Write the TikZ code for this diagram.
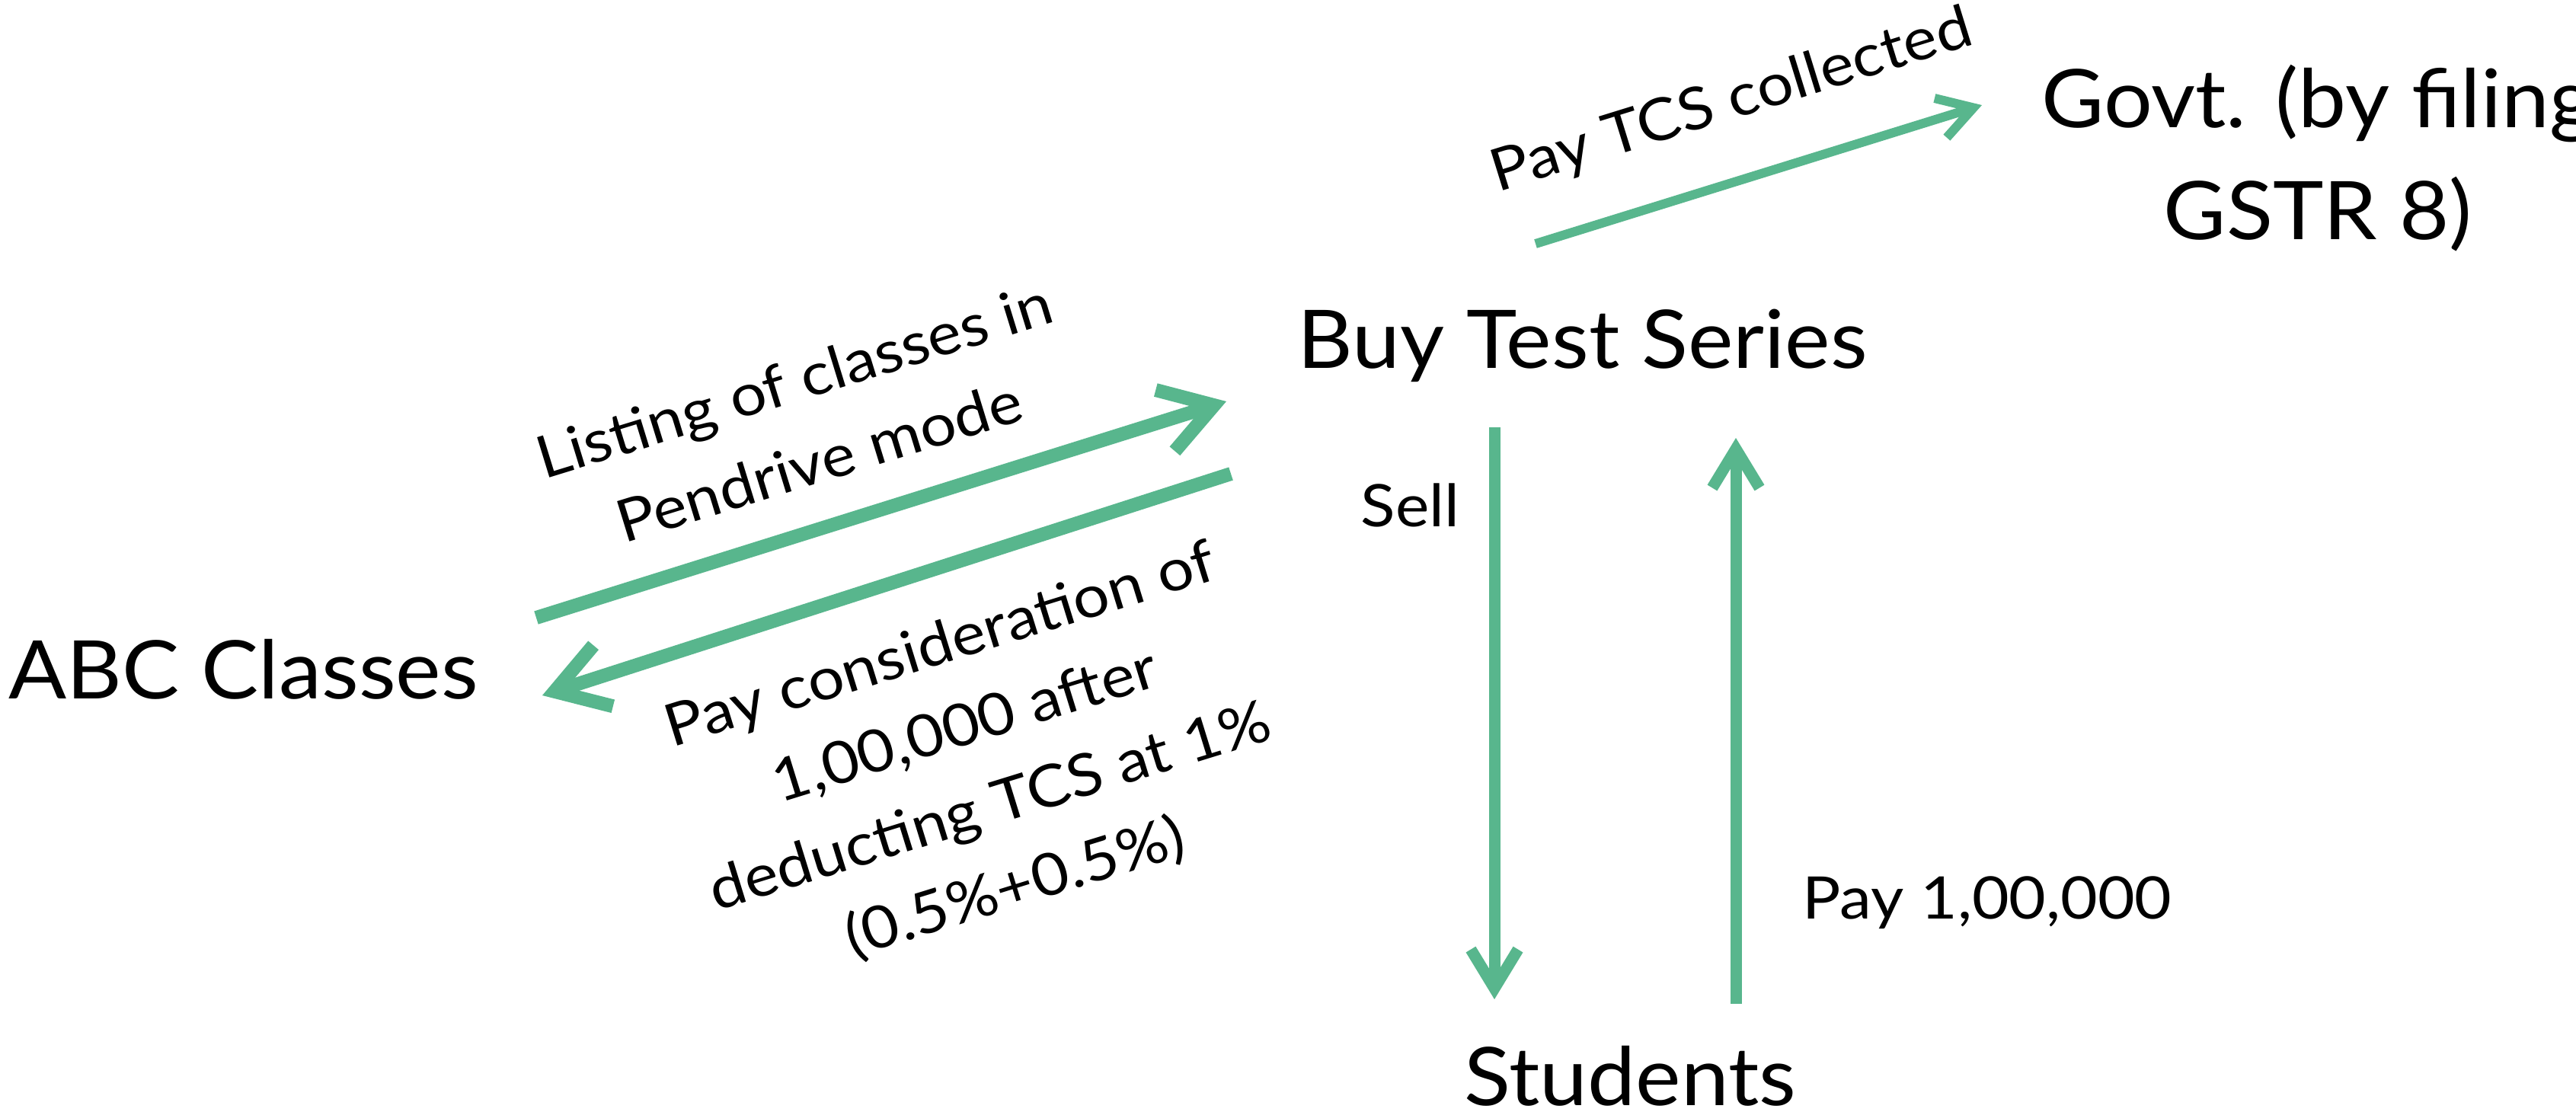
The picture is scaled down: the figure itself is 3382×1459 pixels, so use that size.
\documentclass[tikz,border=0pt]{standalone}
\usepackage{fontspec}
\setmainfont{Lato}
\newfontfamily\partyfont{Lato}[FakeStretch=1.06]
\newfontfamily\capfont{Lato}[FakeStretch=1.09]
\usetikzlibrary{arrows.meta}
\definecolor{flow}{RGB}{88,182,141}
\begin{document}
\begin{tikzpicture}[x=0.01cm,y=-0.01cm,
  party/.style={font=\partyfont\fontsize{30.2pt}{41.8pt}\selectfont, inner sep=0pt},
  caption/.style={font=\capfont\fontsize{21.9pt}{31.6pt}\selectfont, inner sep=0pt},
  widearrow/.style={draw=flow, line width=0.18cm,
    -{Straight Barb[length=0.67cm,width=0.84cm]}},
  narrowarrow/.style={draw=flow, line width=0.15cm,
    -{Straight Barb[length=0.51cm,width=0.62cm]}},
  taxarrow/.style={draw=flow, line width=0.12cm,
    -{Straight Barb[length=0.45cm,width=0.54cm]}}
]
\useasboundingbox (0,0) rectangle (3382,1459);

% parties
\node[party, anchor=base west] (abc) at (11,917) {ABC Classes};
\node[party, anchor=base west] (buy) at (1703,483) {Buy Test Series};
\node[party, anchor=base west] (stu) at (1922,1451) {Students};
\node[party, align=center] (gov) at (3043,208) {Govt. (by filing\\GSTR 8)};

% connector end points
\coordinate (abc-out) at (704,811);
\coordinate (buy-in)  at (1610,527);
\coordinate (buy-out) at (1616,622);
\coordinate (abc-in)  at (712,913);
\coordinate (buy-tax) at (2016,320);
\coordinate (gov-in)  at (2602,138);
\coordinate (buy-sell) at (1962,561);
\coordinate (stu-in)  at (1962,1312);
\coordinate (stu-pay) at (2279,1318);
\coordinate (buy-paid) at (2279,575);

% flows
\draw[widearrow] (abc-out) -- (buy-in);
\draw[widearrow] (buy-out) -- (abc-in);
\draw[taxarrow] (buy-tax) -- (gov-in);
\draw[narrowarrow] (buy-sell) -- (stu-in);
\draw[narrowarrow] (stu-pay) -- (buy-paid);

% flow captions
\node[caption, rotate=17.1, align=center] (listing) at (1059,552)
  {Listing of classes in\\Pendrive mode};
\node[caption, rotate=17.2, align=center] (consider) at (1284,1008)
  {Pay consideration of\\1,00,000 after\\deducting TCS at 1\%\\(0.5\%+0.5\%)};
\node[caption, rotate=17.2, anchor=base] (taxcap) at (2280,155) {Pay TCS collected};
\node[caption, anchor=base west] (sell) at (1786,691) {Sell};
\node[caption, anchor=base west] (paycap) at (2366,1206) {Pay 1,00,000};
\end{tikzpicture}
\end{document}
